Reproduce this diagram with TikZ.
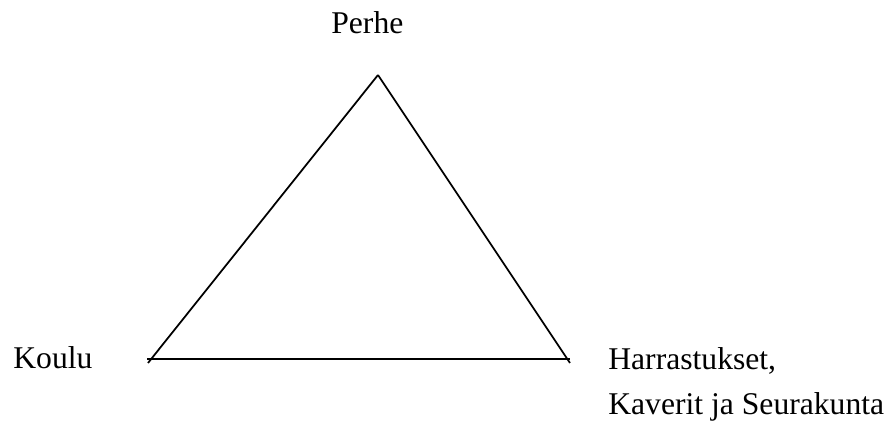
\documentclass[tikz,border=0pt]{standalone}
\usepackage{fontspec}
\setmainfont{Liberation Serif}
\usepackage{tikz}
\usetikzlibrary{positioning}
\tikzset{
  LB/.style={inner sep=0pt,anchor=base west,font=\fontsize{18}{22}\selectfont},
  edge/.style={line width=1pt,black}
}

\begin{document}
\begin{tikzpicture}
  \useasboundingbox (0,0) rectangle (17.8,8.64);
  \coordinate (apex) at (7.56,7.14);
  \coordinate (bl) at (2.94,1.46);
  \coordinate (br) at (11.40,1.46);
  \coordinate (blend) at (2.96,1.38);
  \coordinate (brend) at (11.40,1.38);

  \node[LB] (perhe) at (6.62,7.96) {Perhe};
  \node[LB] (koulu) at (0.26,1.26) {Koulu};
  \node[LB] (harr) at (12.16,1.24) {Harrastukset,};
  \node[LB] (kaverit) at (12.16,0.34) {Kaverit ja Seurakunta};

  \draw[edge](apex)--(blend);
  \draw[edge](apex)--(brend);
  \draw[edge](bl)--(br);
\end{tikzpicture}
\end{document}
